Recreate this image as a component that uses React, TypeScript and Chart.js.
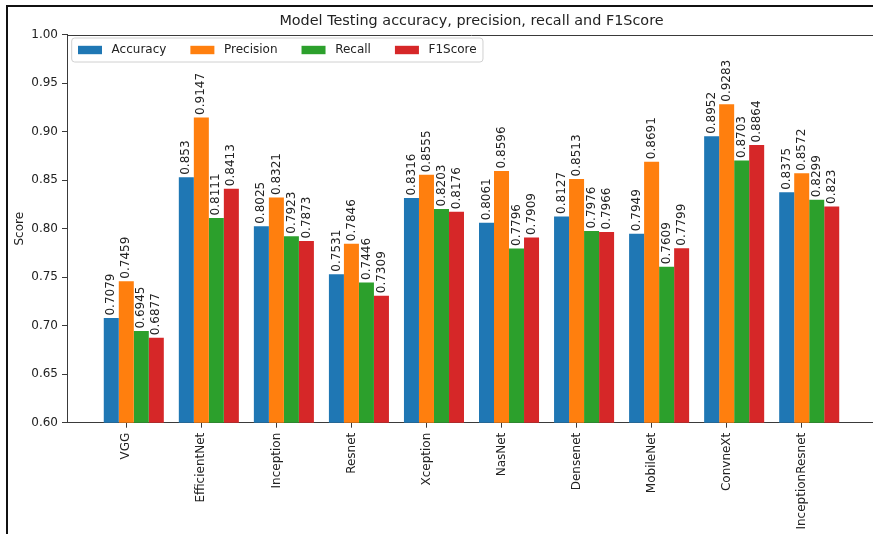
import { useEffect, useRef } from "react";
import { Chart, registerables } from "chart.js";

Chart.register(...registerables);

const categories = [
  "VGG",
  "EfficientNet",
  "Inception",
  "Resnet",
  "Xception",
  "NasNet",
  "Densenet",
  "MobileNet",
  "ConvneXt",
  "InceptionResnet",
];

const seriesNames = ["Accuracy", "Precision", "Recall", "F1Score"];

const accuracy = [0.7079, 0.853, 0.8025, 0.7531, 0.8316, 0.8061, 0.8127, 0.7949, 0.8952, 0.8375];
const precision = [0.7459, 0.9147, 0.8321, 0.7846, 0.8555, 0.8596, 0.8513, 0.8691, 0.9283, 0.8572];
const recall = [0.6945, 0.8111, 0.7923, 0.7446, 0.8203, 0.7796, 0.7976, 0.7609, 0.8703, 0.8299];
const f1Score = [0.6877, 0.8413, 0.7873, 0.7309, 0.8176, 0.7909, 0.7966, 0.7799, 0.8864, 0.823];

const yTickValues = [0.6, 0.65, 0.7, 0.75, 0.8, 0.85, 0.9, 0.95, 1.0];

const titleText = "Model Testing accuracy, precision, recall and F1Score";
const yAxisTitle = "Score";

const colors = ["#1f77b4", "#ff7f0e", "#2ca02c", "#d62728"];
const FONT = '"DejaVu Sans", "Liberation Sans", sans-serif';
const TEXT = "#222";
const SPINE = "#3a3a3a";
const BASE_SIZE = 12;
const TITLE_SIZE = 14.4;

const seriesValues = [accuracy, precision, recall, f1Score];

// Value labels printed vertically above each bar
const valueLabelPlugin = {
  id: "valueLabels",
  afterDatasetsDraw(chart: any) {
    const ctx = chart.ctx;
    ctx.save();
    ctx.font = `${BASE_SIZE}px ${FONT}`;
    ctx.fillStyle = TEXT;
    ctx.textAlign = "left";
    ctx.textBaseline = "middle";
    chart.data.datasets.forEach((_ds: any, di: number) => {
      const meta = chart.getDatasetMeta(di);
      meta.data.forEach((el: any, i: number) => {
        const v = seriesValues[di][i];
        ctx.save();
        ctx.translate(el.x, el.y - 2.5);
        ctx.rotate(-Math.PI / 2);
        ctx.fillText(String(v), 0, 0);
        ctx.restore();
      });
    });
    ctx.restore();
  },
};

// Title, top spine and the boxed legend inside the plot area
const decorPlugin = {
  id: "decor",
  afterDraw(chart: any) {
    const ctx = chart.ctx;
    const area = chart.chartArea;
    ctx.save();

    // top spine
    ctx.strokeStyle = SPINE;
    ctx.lineWidth = 1;
    ctx.beginPath();
    ctx.moveTo(area.left, Math.round(area.top) + 0.5);
    ctx.lineTo(area.right, Math.round(area.top) + 0.5);
    ctx.stroke();

    // title
    ctx.font = `${TITLE_SIZE}px ${FONT}`;
    ctx.fillStyle = TEXT;
    ctx.textAlign = "center";
    ctx.textBaseline = "alphabetic";
    ctx.fillText(titleText, (area.left + area.right) / 2, 24.5);

    // legend entries laid out in one row
    ctx.font = `${BASE_SIZE}px ${FONT}`;
    const handleLen = 2.0 * BASE_SIZE;
    const textPad = 0.8 * BASE_SIZE;
    const colSpacing = 2.0 * BASE_SIZE;
    const borderPad = 0.4 * BASE_SIZE;
    const startX = area.left + 11;
    const cy = 50;
    const items: { x: number; tx: number; label: string; color: string }[] = [];
    let x = startX;
    chart.data.datasets.forEach((ds: any) => {
      const tx = x + handleLen + textPad;
      items.push({ x, tx, label: ds.label, color: ds.backgroundColor });
      x = tx + ctx.measureText(ds.label).width + colSpacing;
    });
    const endX = x - colSpacing;

    // legend frame
    const bx = startX - borderPad - 1.5;
    const by = 38;
    const bw = endX + borderPad + 1.5 - bx;
    const bh = 24;
    const r = 3;
    ctx.fillStyle = "rgba(255,255,255,0.85)";
    ctx.strokeStyle = "#d0d0d0";
    ctx.lineWidth = 1;
    ctx.beginPath();
    ctx.moveTo(bx + r, by);
    ctx.lineTo(bx + bw - r, by);
    ctx.quadraticCurveTo(bx + bw, by, bx + bw, by + r);
    ctx.lineTo(bx + bw, by + bh - r);
    ctx.quadraticCurveTo(bx + bw, by + bh, bx + bw - r, by + bh);
    ctx.lineTo(bx + r, by + bh);
    ctx.quadraticCurveTo(bx, by + bh, bx, by + bh - r);
    ctx.lineTo(bx, by + r);
    ctx.quadraticCurveTo(bx, by, bx + r, by);
    ctx.closePath();
    ctx.fill();
    ctx.stroke();

    ctx.textAlign = "left";
    ctx.textBaseline = "middle";
    items.forEach((it) => {
      ctx.fillStyle = it.color;
      ctx.fillRect(it.x, cy - 4.2, handleLen, 8.4);
      ctx.fillStyle = TEXT;
      ctx.fillText(it.label, it.tx, cy);
    });

    ctx.restore();
  },
};

export default function App() {
  const canvasRef = useRef<HTMLCanvasElement | null>(null);

  useEffect(() => {
    const canvas = canvasRef.current;
    if (!canvas) return;

    const datasets = seriesNames.map((name, di) => ({
      label: name,
      data: seriesValues[di].map((v, i) => ({ x: i + 0.1, y: v })),
      backgroundColor: colors[di],
      borderWidth: 0,
      categoryPercentage: 0.8,
      barPercentage: 1.0,
      grouped: true,
    }));

    const chart = new Chart(canvas, {
      type: "bar",
      data: { datasets },
      plugins: [valueLabelPlugin, decorPlugin],
      options: {
        responsive: false,
        animation: false,
        devicePixelRatio: 1,
        layout: { padding: { left: 0, top: 34.7, right: 24, bottom: 0 } },
        plugins: {
          legend: { display: false },
          tooltip: { enabled: false },
          title: { display: false },
        },
        scales: {
          x: {
            type: "linear",
            offset: false,
            min: -0.79,
            max: 9.99,
            afterFit(scale: any) {
              scale.height = 111.3;
            },
            afterBuildTicks(scale: any) {
              scale.ticks = categories.map((_c, i) => ({ value: i }));
            },
            grid: {
              display: true,
              offset: false,
              drawOnChartArea: false,
              drawTicks: true,
              tickLength: 5,
              color: SPINE,
            },
            border: { display: true, color: SPINE, width: 1 },
            ticks: {
              autoSkip: false,
              minRotation: 90,
              maxRotation: 90,
              padding: 5,
              color: TEXT,
              font: { family: FONT, size: BASE_SIZE },
              callback: (value: any) => categories[Math.round(Number(value))] ?? "",
            },
          },
          y: {
            type: "linear",
            min: 0.6,
            max: 1.0,
            afterFit(scale: any) {
              scale.width = 67;
            },
            afterBuildTicks(scale: any) {
              scale.ticks = yTickValues.map((v) => ({ value: v }));
            },
            grid: {
              display: true,
              offset: false,
              drawOnChartArea: false,
              drawTicks: true,
              tickLength: 5,
              color: SPINE,
            },
            border: { display: true, color: SPINE, width: 1 },
            ticks: {
              padding: 4,
              color: TEXT,
              font: { family: FONT, size: BASE_SIZE },
              callback: (value: any) => Number(value).toFixed(2),
            },
            title: {
              display: true,
              text: yAxisTitle,
              color: TEXT,
              font: { family: FONT, size: BASE_SIZE },
              padding: { top: 12.8, bottom: 0 },
            },
          },
        },
      },
    });

    return () => chart.destroy();
  }, []);

  return (
    <div
      style={{
        position: "fixed",
        left: 0,
        top: 0,
        width: 873,
        height: 534,
        overflow: "hidden",
        background: "#fff",
      }}
    >
      <canvas
        ref={canvasRef}
        width={900}
        height={534}
        style={{ display: "block", width: 900, height: 534 }}
      />
      <div
        style={{
          position: "absolute",
          left: 6,
          top: 5,
          width: 900,
          height: 600,
          borderTop: "2px solid #111",
          borderLeft: "2px solid #111",
          pointerEvents: "none",
        }}
      />
    </div>
  );
}
